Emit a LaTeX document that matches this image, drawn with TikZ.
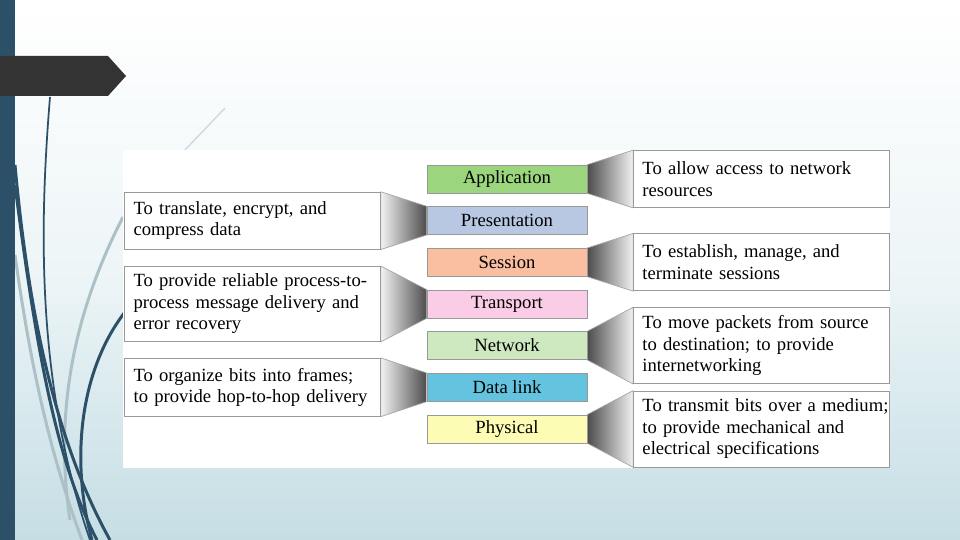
\documentclass[tikz,border=0pt]{standalone}
\usepackage{fontspec}
\setmainfont{Liberation Serif}
\usetikzlibrary{positioning,calc}
\pgfdeclarelayer{background}
\pgfsetlayers{background,main}
\definecolor{barblue}{RGB}{44,80,104}
\definecolor{bgblue}{RGB}{197,222,228}
\definecolor{curvegray}{RGB}{172,192,200}
\definecolor{appc}{RGB}{155,213,125}
\definecolor{presc}{RGB}{185,200,226}
\definecolor{sessc}{RGB}{250,190,160}
\definecolor{transc}{RGB}{250,204,230}
\definecolor{netc}{RGB}{206,233,192}
\definecolor{dlc}{RGB}{100,195,222}
\definecolor{physc}{RGB}{253,252,180}
\newcommand{\txtsize}{\fontsize{10.6}{12.2}\selectfont}

\begin{document}
\begin{tikzpicture}[x=0.02cm,y=-0.02cm,node distance=0.8333cm and 5.09cm,on grid,
  layer/.style={draw=gray!80,minimum width=3.2cm,minimum height=0.56cm,inner sep=0pt,font=\txtsize},
  desc/.style={draw=gray!80,fill=white,text width=4.76cm,inner xsep=0.18cm,inner ysep=0.12cm,align=left,font=\txtsize},
  funnelL/.style={draw=gray!70,left color=gray!10,middle color=gray!40,right color=black!70},
  funnelR/.style={draw=gray!70,left color=black!70,middle color=gray!40,right color=gray!10},
  darkcurve/.style={barblue,line width=1.7pt},
  lightcurve/.style={curvegray,line width=1.7pt}]
  \useasboundingbox (0,0) rectangle (960,540);
   \node [layer,fill=appc] (app) at (507,179) {Application};
   \node [layer,fill=presc] (pres) [below=of app] {Presentation};
   \node [layer,fill=sessc] (sess) [below=of pres] {Session};
   \node [layer,fill=transc] (trans) [below=of sess] {Transport};
   \node [layer,fill=netc] (net) [below=of trans] {Network};
   \node [layer,fill=dlc] (dl) [below=of net] {Data link};
   \node [layer,fill=physc] (phys) [below=of dl] {Physical};
   \node [desc,minimum height=1.14cm] (presdesc) [left=of pres] {To translate, encrypt, and\\compress data};
   \node [desc,minimum height=1.5cm] (transdesc) [left=of trans] {To provide reliable process-to-\\process message delivery and\\error recovery};
   \node [desc,minimum height=1.16cm] (dldesc) [left=of dl] {To organize bits into frames;\\to provide hop-to-hop delivery};
   \node [desc,minimum height=1.14cm] (appdesc) [right=of app] {To allow access to network\\resources};
   \node [desc,minimum height=1.14cm] (sessdesc) [right=of sess] {To establish, manage, and\\terminate sessions};
   \node [desc,minimum height=1.52cm] (netdesc) [right=of net] {To move packets from source\\to destination; to provide\\internetworking};
   \node [desc,minimum height=1.52cm] (physdesc) [right=of phys] {\mbox{To transmit bits over a medium;}\\to provide mechanical and\\electrical specifications};
  \begin{pgfonlayer}{background}
    \shade[top color=white,bottom color=bgblue,middle color=bgblue!30] (0,0) rectangle (960,540);
    \draw[lightcurve] (15,255) .. controls (35,400) and (60,480) .. (82,540);
    \draw[lightcurve] (123,217) .. controls (70,320) and (55,420) .. (70,520);
    \draw[curvegray!60,line width=0.8pt] (185,150) -- (225,108);
    \draw[darkcurve] (15,165) .. controls (30,330) and (60,450) .. (110,540);
    \draw[darkcurve] (15,185) .. controls (35,340) and (55,460) .. (97,540);
    \draw[barblue,line width=1pt] (50,97) .. controls (40,220) and (35,380) .. (90,540);
    \draw[darkcurve] (125,312) .. controls (80,370) and (70,460) .. (92,540);
    \fill[barblue] (0,0) rectangle (15,540);
    \fill[black!80] (0,56) -- (108,56) -- (126,76) -- (108,96) -- (0,96) -- cycle;
    \fill[white] (123,150) rectangle (890,468);
    \shade[funnelL] (presdesc.north east) -- (pres.north west) -- (pres.south west) -- (presdesc.south east) -- cycle;
    \shade[funnelL] (transdesc.north east) -- (trans.north west) -- (trans.south west) -- (transdesc.south east) -- cycle;
    \shade[funnelL] (dldesc.north east) -- (dl.north west) -- (dl.south west) -- (dldesc.south east) -- cycle;
    \shade[funnelR] (app.north east) -- (appdesc.north west) -- (appdesc.south west) -- (app.south east) -- cycle;
    \shade[funnelR] (sess.north east) -- (sessdesc.north west) -- (sessdesc.south west) -- (sess.south east) -- cycle;
    \shade[funnelR] (net.north east) -- (netdesc.north west) -- (netdesc.south west) -- (net.south east) -- cycle;
    \shade[funnelR] (phys.north east) -- (physdesc.north west) -- (physdesc.south west) -- (phys.south east) -- cycle;
  \end{pgfonlayer}
\end{tikzpicture}
\end{document}
